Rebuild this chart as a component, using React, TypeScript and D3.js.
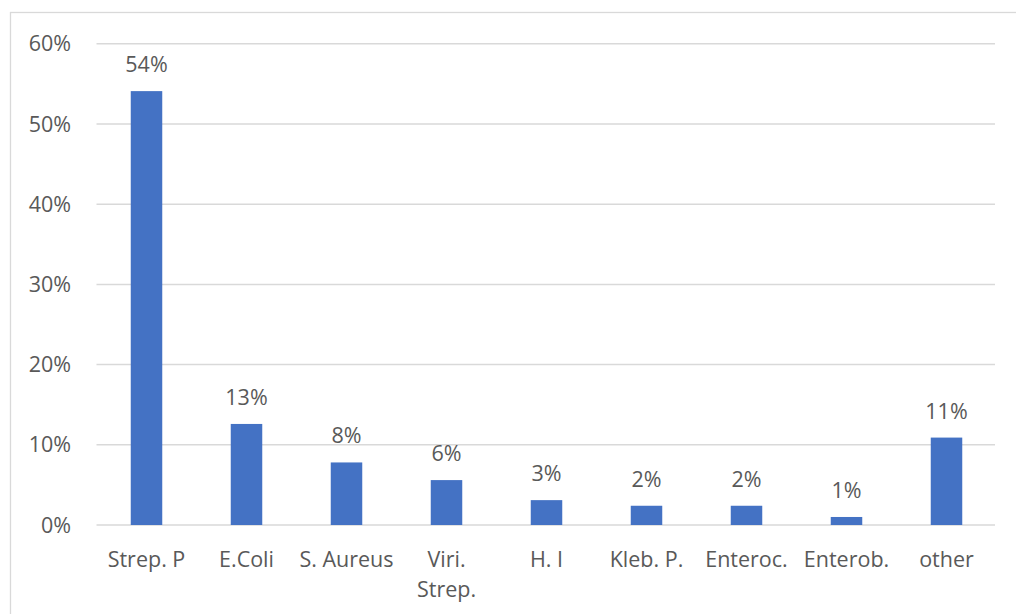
import React, { useEffect, useRef } from "react";
import * as d3 from "d3";

// Share of isolates per organism
const categories: string[][] = [
  ["Strep. P"],
  ["E.Coli"],
  ["S. Aureus"],
  ["Viri.", "Strep."],
  ["H. I"],
  ["Kleb. P."],
  ["Enteroc."],
  ["Enterob."],
  ["other"],
];
const shares: number[] = [0.541, 0.126, 0.078, 0.056, 0.031, 0.024, 0.024, 0.01, 0.109];
const yTicks: number[] = [0, 0.1, 0.2, 0.3, 0.4, 0.5, 0.6];

const W = 1016;
const H = 614;
const FONT = "'Open Sans', 'Noto Sans', sans-serif";
const FS = 21.5;
const TEXT = "#595959";
const GRID = "#d9d9d9";
const BAR = "#4472C4";

export default function App() {
  const ref = useRef<SVGSVGElement>(null);

  useEffect(() => {
    const svg = d3.select(ref.current);
    svg.selectAll("*").remove();

    const left = 96.5;
    const right = 996.5;
    const top = 43.8;
    const bottom = 525;

    const keys = categories.map((c) => c.join(" "));
    const x = d3.scaleBand<string>().domain(keys).range([left, right]).paddingInner(0.685).paddingOuter(0.3425);
    const y = d3.scaleLinear().domain([0, 0.6]).range([bottom, top]);

    // chart frame
    svg
      .append("rect")
      .attr("x", 10.5)
      .attr("y", 12.5)
      .attr("width", W + 20)
      .attr("height", H + 20)
      .attr("fill", "none")
      .attr("stroke", GRID)
      .attr("stroke-width", 1.3);

    // gridlines
    svg
      .append("g")
      .selectAll("line")
      .data(yTicks)
      .join("line")
      .attr("x1", left)
      .attr("x2", right - 1.5)
      .attr("y1", (d) => y(d))
      .attr("y2", (d) => y(d))
      .attr("stroke", GRID)
      .attr("stroke-width", 1.5);

    // y tick labels
    const fmt = d3.format(".0%");
    svg
      .append("g")
      .selectAll("text")
      .data(yTicks)
      .join("text")
      .attr("x", 71)
      .attr("y", (d) => y(d))
      .attr("dy", "0.35em")
      .attr("text-anchor", "end")
      .attr("font-family", FONT)
      .attr("font-size", FS)
      .attr("fill", TEXT)
      .text((d) => fmt(d));

    // bars
    svg
      .append("g")
      .selectAll("rect")
      .data(shares)
      .join("rect")
      .attr("x", (_, i) => x(keys[i])!)
      .attr("y", (d) => y(d))
      .attr("width", x.bandwidth())
      .attr("height", (d) => bottom - y(d))
      .attr("fill", BAR);

    // value labels
    svg
      .append("g")
      .selectAll("text")
      .data(shares)
      .join("text")
      .attr("x", (_, i) => x(keys[i])! + x.bandwidth() / 2)
      .attr("y", (d) => y(d) - 19)
      .attr("text-anchor", "middle")
      .attr("font-family", FONT)
      .attr("font-size", FS)
      .attr("fill", TEXT)
      .text((d) => `${Math.round(d * 100)}%`);

    // category labels
    const cat = svg
      .append("g")
      .selectAll("text")
      .data(categories)
      .join("text")
      .attr("x", (_, i) => x(keys[i])! + x.bandwidth() / 2)
      .attr("y", 567)
      .attr("text-anchor", "middle")
      .attr("font-family", FONT)
      .attr("font-size", FS)
      .attr("fill", TEXT);
    cat
      .selectAll("tspan")
      .data((d, i) => d.map((line) => ({ line, i })))
      .join("tspan")
      .attr("x", (d) => x(keys[d.i])! + x.bandwidth() / 2)
      .attr("dy", (_, j) => (j === 0 ? 0 : 30))
      .text((d) => d.line);
  }, []);

  return (
    <svg
      ref={ref}
      width={W}
      height={H}
      style={{ position: "absolute", left: 0, top: 0, background: "#fff" }}
    />
  );
}
